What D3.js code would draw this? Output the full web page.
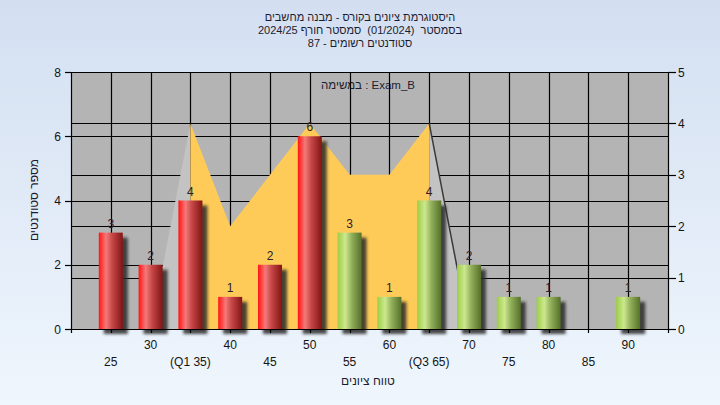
<!DOCTYPE html>
<html>
<head>
<meta charset="utf-8">
<script src="https://cdn.jsdelivr.net/npm/d3@7"></script>
<style>
  html, body { margin: 0; padding: 0; background: #e6eef9; }
  svg { display: block; }
  text { font-family: "Liberation Sans", Arial, sans-serif; white-space: pre; }
</style>
</head>
<body>
<svg id="chart" width="720" height="405"></svg>
<script>
// ---------- data ----------
const categories = [25, 30, 35, 40, 45, 50, 55, 60, 65, 70, 75, 80, 85, 90];
const counts     = [3, 2, 4, 1, 2, 6, 3, 1, 4, 2, 1, 1, 0, 1];
const tickLabels = ["25", "30", "(Q1 35)", "40", "45", "50", "55", "60", "(Q3 65)", "70", "75", "80", "85", "90"];
const areaX      = [30, 35, 40, 45, 50, 55, 60, 65, 70];
const areaY      = [0, 4, 2, 3, 4, 3, 3, 4, 0];
const leftTicks  = [0, 2, 4, 6, 8];
const rightTicks = [0, 1, 2, 3, 4, 5];
const titleLines = [
  "היסטוגרמת ציונים בקורס - מבנה מחשבים",
  "בסמסטר  (01/2024)  סמסטר חורף 2024/25",
  "סטודנטים רשומים - 87"
];
const legendText = "במשימה : Exam_B";
const xTitle = "טווח ציונים";
const yTitle = "מספר סטודנטים";
const passGrade = 55;
const q1 = 35, q3 = 65;

// ---------- layout ----------
const W = 720, H = 405;
const L = 71, R = 668, T = 72, B = 329;
const svg = d3.select("#chart");
const defs = svg.append("defs");

const bg = defs.append("linearGradient").attr("id", "bg").attr("x1", 0).attr("y1", 0).attr("x2", 0).attr("y2", 1);
bg.append("stop").attr("offset", "0%").attr("stop-color", "#d3dff1");
bg.append("stop").attr("offset", "100%").attr("stop-color", "#eff6fd");

const red = defs.append("linearGradient").attr("id", "gRed").attr("x1", 0).attr("y1", 0).attr("x2", 1).attr("y2", 0);
[["0%", "#ff1414"], ["12%", "#ff3a3a"], ["30%", "#f47a7a"], ["55%", "#c84848"], ["100%", "#821414"]]
  .forEach(([o, c]) => red.append("stop").attr("offset", o).attr("stop-color", c));
const green = defs.append("linearGradient").attr("id", "gGreen").attr("x1", 0).attr("y1", 0).attr("x2", 1).attr("y2", 0);
[["0%", "#9ccc48"], ["12%", "#aed860"], ["32%", "#cde88f"], ["60%", "#8fae58"], ["100%", "#56702a"]]
  .forEach(([o, c]) => green.append("stop").attr("offset", o).attr("stop-color", c));

const blur = defs.append("filter").attr("id", "blur").attr("x", "-50%").attr("y", "-50%").attr("width", "200%").attr("height", "200%");
blur.append("feGaussianBlur").attr("stdDeviation", 1.8);

svg.append("rect").attr("width", W).attr("height", H).attr("fill", "url(#bg)");

// scales
const x = d3.scaleLinear().domain([20, 95]).range([L, R]);
const yL = d3.scaleLinear().domain([0, 8]).range([B, T]);
const yR = d3.scaleLinear().domain([0, 5]).range([B, T]);

// plot background
svg.append("rect").attr("x", L).attr("y", T).attr("width", R - L).attr("height", B - T).attr("fill", "#b4b4b4");

// legend text (under grid)
svg.append("text").attr("x", 368).attr("y", 89).attr("text-anchor", "middle")
  .attr("font-size", 11.5).attr("fill", "#1c1c30").text(legendText);

// grid
const grid = svg.append("g").attr("stroke", "#000").attr("stroke-width", 1.2);
leftTicks.forEach(v => grid.append("line").attr("x1", L).attr("x2", R).attr("y1", Math.round(yL(v)) + 0.5).attr("y2", Math.round(yL(v)) + 0.5));
rightTicks.forEach(v => grid.append("line").attr("x1", L).attr("x2", R).attr("y1", Math.round(yR(v)) + 0.5).attr("y2", Math.round(yR(v)) + 0.5));
categories.forEach(c => grid.append("line").attr("x1", Math.round(x(c)) + 0.5).attr("x2", Math.round(x(c)) + 0.5).attr("y1", T).attr("y2", B));

// area (right axis)
const pts = areaX.map((d, i) => [d, areaY[i]]);
const area = d3.area().x(d => x(d[0])).y0(yR(0)).y1(d => yR(d[1]));
const inner = pts.filter(d => d[0] >= q1 && d[0] <= q3);
const leftPart = pts.filter(d => d[0] <= q1);
const rightPart = pts.filter(d => d[0] >= q3);
svg.append("path").attr("d", area(leftPart)).attr("fill", "#c3c3c3");
svg.append("path").attr("d", area(rightPart)).attr("fill", "#c3c3c3");
svg.append("path").attr("d", area(inner)).attr("fill", "#ffcb58");
svg.append("path").attr("d", d3.line().x(d => x(d[0])).y(d => yR(d[1]))(rightPart))
  .attr("fill", "none").attr("stroke", "#3a3a3a").attr("stroke-width", 1.5);

// bars
const bw = 24;
const data = categories.map((c, i) => ({ c, v: counts[i] })).filter(d => d.v > 0);
svg.append("g").selectAll("rect").data(data).join("rect")
  .attr("x", d => x(d.c) - bw / 2 + 5).attr("y", d => yL(d.v) + 5)
  .attr("width", bw).attr("height", d => B - yL(d.v))
  .attr("fill", "#2a2a2a").attr("opacity", 0.85).attr("filter", "url(#blur)");
svg.append("g").selectAll("rect").data(data).join("rect")
  .attr("x", d => x(d.c) - bw / 2).attr("y", d => yL(d.v))
  .attr("width", bw).attr("height", d => B - yL(d.v))
  .attr("fill", d => d.c < passGrade ? "url(#gRed)" : "url(#gGreen)");

// bar labels
svg.append("g").selectAll("text").data(data).join("text")
  .attr("x", d => x(d.c)).attr("y", d => yL(d.v) - 5).attr("text-anchor", "middle")
  .attr("font-size", 12).attr("fill", "#2a2028").text(d => d.v);

// axes
const ax = svg.append("g").attr("stroke", "#000").attr("stroke-width", 1.2);
ax.append("line").attr("x1", L + 0.5).attr("x2", L + 0.5).attr("y1", T).attr("y2", B + 4);
ax.append("line").attr("x1", R + 0.5).attr("x2", R + 0.5).attr("y1", T).attr("y2", B + 4);
ax.append("line").attr("x1", L - 6).attr("x2", R + 8).attr("y1", B + 0.5).attr("y2", B + 0.5);
leftTicks.forEach(v => ax.append("line").attr("x1", L - 6).attr("x2", L).attr("y1", Math.round(yL(v)) + 0.5).attr("y2", Math.round(yL(v)) + 0.5));
rightTicks.forEach(v => ax.append("line").attr("x1", R).attr("x2", R + 8).attr("y1", Math.round(yR(v)) + 0.5).attr("y2", Math.round(yR(v)) + 0.5));
categories.forEach(c => ax.append("line").attr("x1", Math.round(x(c)) + 0.5).attr("x2", Math.round(x(c)) + 0.5).attr("y1", B).attr("y2", B + 4));

const txt = svg.append("g").attr("font-size", 12).attr("fill", "#141414");
leftTicks.forEach(v => txt.append("text").attr("x", 61).attr("y", yL(v) + 4.5).attr("text-anchor", "end").text(v));
rightTicks.forEach(v => txt.append("text").attr("x", 678).attr("y", yR(v) + 4.5).attr("text-anchor", "start").text(v));
categories.forEach((c, i) => txt.append("text").attr("x", x(c)).attr("y", i % 2 === 1 ? 349 : 366)
  .attr("text-anchor", "middle").text(tickLabels[i]));

// titles
titleLines.forEach((t, i) => svg.append("text").attr("x", 360).attr("y", 21 + i * 13)
  .attr("text-anchor", "middle").attr("font-size", 11).attr("fill", "#1c1c30").text(t));
svg.append("text").attr("x", 368).attr("y", 385).attr("text-anchor", "middle").attr("font-size", 12)
  .attr("fill", "#1c1c30").text(xTitle);
svg.append("text").attr("transform", "translate(38,200) rotate(-90)").attr("text-anchor", "middle")
  .attr("font-size", 12).attr("fill", "#1c1c30").text(yTitle);
</script>
</body>
</html>
